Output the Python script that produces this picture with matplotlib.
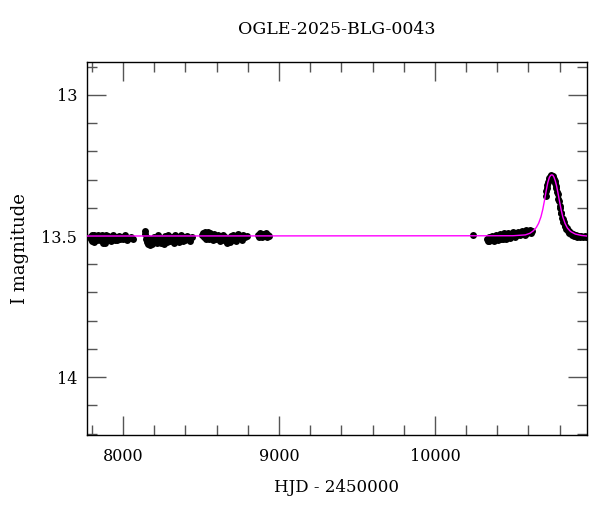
import matplotlib
matplotlib.use("Agg")
import matplotlib.pyplot as plt
from matplotlib.ticker import MultipleLocator

title = "OGLE-2025-BLG-0043"

# photometry, season by season (HJD - 2450000, I mag)
t1 = [7791, 7795, 7799, 7803, 7807, 7811, 7815, 7820, 7826, 7832, 7838, 7844, 7850, 7856, 7862,
      7868, 7874, 7880, 7886, 7892, 7898, 7905, 7912, 7919, 7926, 7933, 7940, 7948, 7956, 7964,
      7972, 7980, 7990, 8000, 8012, 8024, 8036, 8050, 8066]
m1 = [13.503, 13.512, 13.496, 13.519, 13.506, 13.521, 13.497, 13.51, 13.501, 13.514, 13.496, 13.507,
      13.515, 13.504, 13.496, 13.513, 13.523, 13.509, 13.524, 13.498, 13.513, 13.5, 13.512, 13.506,
      13.517, 13.497, 13.508, 13.514, 13.502, 13.514, 13.499, 13.512, 13.505, 13.511, 13.498, 13.513,
      13.507, 13.503, 13.509]

t2 = [8138, 8143, 8148, 8153, 8158, 8163, 8169, 8175, 8181, 8187, 8193, 8199, 8206, 8213, 8220,
      8227, 8234, 8241, 8248, 8255, 8262, 8269, 8276, 8283, 8290, 8297, 8304, 8311, 8318, 8326,
      8334, 8342, 8350, 8358, 8366, 8374, 8382, 8391, 8400, 8410, 8420, 8430, 8440]
m2 = [13.482, 13.494, 13.512, 13.521, 13.506, 13.527, 13.515, 13.531, 13.509, 13.528, 13.518, 13.503,
      13.522, 13.511, 13.526, 13.498, 13.516, 13.526, 13.507, 13.516, 13.529, 13.501, 13.512, 13.521,
      13.495, 13.508, 13.519, 13.502, 13.511, 13.523, 13.497, 13.514, 13.505, 13.52, 13.508, 13.496,
      13.517, 13.504, 13.513, 13.499, 13.51, 13.516, 13.502]

t3 = [8508, 8513, 8518, 8524, 8530, 8536, 8542, 8548, 8554, 8560, 8566, 8572, 8578, 8585, 8592,
      8599, 8606, 8613, 8620, 8627, 8634, 8641, 8648, 8655, 8662, 8669, 8676, 8683, 8690, 8698,
      8706, 8714, 8722, 8730, 8740, 8750, 8760, 8770, 8780, 8792]
m3 = [13.497, 13.488, 13.503, 13.486, 13.509, 13.494, 13.484, 13.501, 13.512, 13.491, 13.506, 13.498,
      13.515, 13.493, 13.504, 13.51, 13.496, 13.507, 13.518, 13.499, 13.511, 13.495, 13.513, 13.502,
      13.518, 13.523, 13.507, 13.521, 13.499, 13.513, 13.495, 13.505, 13.516, 13.5, 13.492, 13.508,
      13.515, 13.497, 13.503, 13.499]

t4 = [8866, 8872, 8878, 8884, 8890, 8896, 8902, 8909, 8916, 8923, 8930, 8936]
m4 = [13.495, 13.502, 13.49, 13.498, 13.504, 13.493, 13.5, 13.497, 13.489, 13.503, 13.495, 13.499]

t5 = [10244, 10335, 10340, 10345, 10350, 10356, 10362, 10368, 10374, 10380, 10386, 10392, 10398,
      10404, 10410, 10416, 10422, 10428, 10434, 10440, 10446, 10452, 10458, 10464, 10470, 10477,
      10484, 10491, 10498, 10505, 10512, 10520, 10528, 10536, 10544, 10552, 10560, 10568, 10576,
      10584, 10592, 10600, 10608, 10615, 10622]
m5 = [13.497, 13.51, 13.517, 13.503, 13.518, 13.507, 13.514, 13.5, 13.512, 13.516, 13.505, 13.496,
      13.511, 13.513, 13.502, 13.494, 13.509, 13.498, 13.512, 13.488, 13.506, 13.497, 13.509, 13.503,
      13.49, 13.501, 13.507, 13.495, 13.486, 13.499, 13.503, 13.492, 13.497, 13.486, 13.498, 13.494,
      13.483, 13.49, 13.495, 13.48, 13.488, 13.484, 13.479, 13.489, 13.482]

t6 = [10711, 10714, 10717, 10720, 10724, 10729, 10734, 10739, 10743, 10747, 10751, 10755, 10759,
      10763, 10767, 10771, 10775, 10779, 10783, 10787, 10791, 10795, 10799, 10803, 10807, 10811,
      10815, 10819, 10823, 10827, 10831, 10836, 10841, 10846, 10851, 10857, 10863, 10870, 10878,
      10886, 10894, 10903, 10912, 10921, 10930, 10940, 10950, 10960, 10970]
m6 = [13.357, 13.342, 13.33, 13.318, 13.31, 13.302, 13.295, 13.29, 13.286, 13.284, 13.286, 13.289,
      13.293, 13.298, 13.306, 13.312, 13.322, 13.33, 13.345, 13.352, 13.37, 13.376, 13.395, 13.4,
      13.418, 13.42, 13.437, 13.438, 13.452, 13.452, 13.464, 13.463, 13.474, 13.473, 13.483, 13.482,
      13.49, 13.489, 13.495, 13.494, 13.499, 13.497, 13.503, 13.499, 13.504, 13.5, 13.505, 13.501,
      13.503]

# microlensing model curve
tm = [7769, 10500, 10580, 10610, 10630, 10650, 10665, 10680, 10692, 10704, 10714, 10724, 10734, 10742,
      10750, 10757, 10764, 10772, 10780, 10790, 10800, 10810, 10820, 10835, 10850, 10870, 10900,
      10940, 10974]
mm = [13.5, 13.499, 13.496, 13.49, 13.482, 13.47, 13.455, 13.432, 13.405, 13.37, 13.338, 13.31,
      13.292, 13.285, 13.283, 13.285, 13.292, 13.305, 13.322, 13.35, 13.38, 13.408, 13.432, 13.456,
      13.472, 13.484, 13.493, 13.498, 13.5]

plt.rcParams['font.family'] = ['DejaVu Serif']

fig = plt.figure(figsize=(6, 5.12), dpi=100)
ax = fig.add_axes([0.145, 0.150, 0.833, 0.729])

for t, m in [(t1, m1), (t2, m2), (t3, m3), (t4, m4), (t5, m5), (t6, m6)]:
    ax.plot(t, m, "o", color="black", markersize=5.0, markeredgewidth=0, zorder=2)
ax.plot(tm, mm, color="#ff00ff", linewidth=1.0, zorder=3)

ax.set_xlim(7769, 10974)
ax.set_ylim(14.206, 12.883)

ax.xaxis.set_major_locator(MultipleLocator(1000))
ax.xaxis.set_minor_locator(MultipleLocator(200))
ax.yaxis.set_major_locator(MultipleLocator(0.5))
ax.yaxis.set_minor_locator(MultipleLocator(0.1))
ax.yaxis.set_major_formatter(plt.FuncFormatter(lambda v, p: "%g" % v))

ax.tick_params(which="both", direction="in", top=True, right=True, color="#555555", width=1.0,
               labelsize=11.5)
ax.tick_params(which="major", length=14)
ax.tick_params(which="minor", length=7)
ax.tick_params(axis="x", pad=9)
ax.tick_params(axis="y", pad=7)
for s in ax.spines.values():
    s.set_linewidth(1.0)

ax.set_xlabel("HJD - 2450000", fontsize=12, labelpad=10)
ax.set_ylabel("I magnitude", fontsize=13, labelpad=9)
ax.set_title(title, fontsize=12.5, pad=20)

fig.savefig("out.png", dpi=100)
